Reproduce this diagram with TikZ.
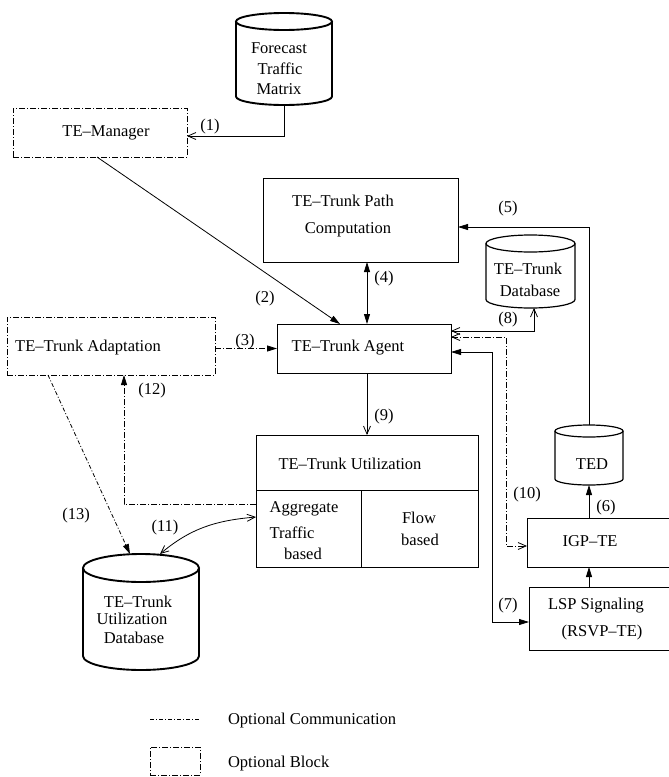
\documentclass[tikz,border=0pt]{standalone}
\usepackage{fontspec}
\setmainfont{Liberation Serif}
\usetikzlibrary{arrows.meta,calc}
\newcommand\cylpath[6]{%
  \draw[#6] (#1,{-(#3+#5)}) -- (#1,{-(#4-#5)}) arc[start angle=180,end angle=360,x radius={(#2-#1)/2},y radius=#5] -- (#2,{-(#3+#5)});
  \draw[#6] ({(#1+#2)/2},{-(#3+#5)}) ellipse[x radius={(#2-#1)/2},y radius=#5];}
\begin{document}
\begin{tikzpicture}[x=1pt,y=1pt,
  txt/.style={inner sep=0pt,outer sep=0pt,font=\fontsize{16.5}{19}\selectfont,text height=11pt,text depth=3pt},
  blk/.style={draw,line width=0.8pt,inner sep=0pt,outer sep=0pt},
  optdash/.style={dash pattern=on 6pt off 2pt on 1pt off 2pt},
  optfine/.style={dash pattern=on 4pt off 2pt on 1pt off 2pt},
  optblk/.style={blk,optdash},
  hole/.style={inner sep=0pt,outer sep=0pt},
  conn/.style={line width=0.8pt},
  fhead/.style={-{Triangle[length=10pt,width=6pt]}},
  fboth/.style={{Triangle[length=10pt,width=6pt]}-{Triangle[length=10pt,width=6pt]}},
  ohead/.style={-{Straight Barb[length=8pt,width=7pt]}},
  oboth/.style={{Straight Barb[length=8pt,width=7pt]}-{Straight Barb[length=8pt,width=7pt]}},
  thick cyl/.style={line width=1.9pt},
  thin cyl/.style={line width=1.2pt}]
\useasboundingbox (0,0) rectangle (669,-777);
\clip (0,0) rectangle (669,-777);

% cylinders
\node[hole,minimum width=96pt,minimum height=92pt] (fc) at (284,-59) {};
\cylpath{236}{332}{13}{105}{8.5}{thick cyl}
\node[txt] (fct1) at (279,-49) {Forecast};
\node[txt] (fct2) at (280,-70) {Traffic};
\node[txt] (fct3) at (279,-90) {Matrix};

\node[hole,minimum width=89pt,minimum height=73pt] (tdb) at (530.5,-271.5) {};
\cylpath{486}{575}{235}{308}{8.5}{thin cyl}
\node[txt] (tdbt1) at (528,-270) {TE--Trunk};
\node[txt] (tdbt2) at (530,-292) {Database};

\node[hole,minimum width=68pt,minimum height=60pt] (ted) at (589,-455) {};
\cylpath{555}{623}{425}{485}{6}{thin cyl}
\node[txt] (tedt) at (592,-465) {TED};

\node[hole,minimum width=116pt,minimum height=116pt] (udb) at (141,-612) {};
\cylpath{83}{199}{554}{670}{14}{thick cyl}
\node[txt] (udbt1) at (138,-603) {TE--Trunk};
\node[txt] (udbt2) at (132,-620) {Utilization};
\node[txt] (udbt3) at (134,-639) {Database};

% boxes
\node[optblk,minimum width=174pt,minimum height=49pt] (mgr) at (100,-132.5) {};
\node[txt] (mgrt) at (106,-132) {TE--Manager};

\node[blk,minimum width=195pt,minimum height=84pt] (path) at (360.5,-220) {};
\node[txt] (patht1) at (343,-202) {TE--Trunk Path};
\node[txt] (patht2) at (348,-229) {Computation};

\node[blk,minimum width=174pt,minimum height=49pt] (agent) at (364,-348.5) {};
\node[txt] (agentt) at (348,-347) {TE--Trunk Agent};

\node[optblk,minimum width=208pt,minimum height=58pt] (adapt) at (111,-346) {};
\node[txt] (adaptt) at (88,-347) {TE--Trunk Adaptation};

\node[blk,minimum width=222pt,minimum height=132pt] (util) at (367,-501) {};
\draw[line width=0.8pt] (util.west |- 0,-490) -- (util.east |- 0,-490);
\draw[line width=0.8pt] (361,-490) -- (util.south -| 361,0);
\node[txt] (utilt) at (350,-465) {TE--Trunk Utilization};
\node[txt] (aggt1) at (304,-508) {Aggregate};
\node[txt] (aggt2) at (292,-534) {Traffic};
\node[txt] (aggt3) at (303,-555) {based};
\node[txt] (flowt1) at (419,-519) {Flow};
\node[txt] (flowt2) at (420,-541) {based};

\node[blk,minimum width=145pt,minimum height=49pt] (igp) at (599.5,-542.5) {};
\node[txt] (igpt) at (590,-542) {IGP--TE};

\node[blk,minimum width=143pt,minimum height=63pt] (lsp) at (600.5,-618.5) {};
\node[txt] (lspt1) at (596,-605) {LSP Signaling};
\node[txt] (lspt2) at (602,-632) {(RSVP--TE)};

% connectors
\draw[conn,ohead] (fc.south) |- (mgr.east |- 0,-136);
\draw[conn,fhead] (mgr.south -| 97,0) -- (agent.north -| 340,0);
\draw[conn,optdash,fhead] (adapt.east |- agent.west) -- (agent.west);
\draw[conn,fboth] (path.south -| 367,0) -- (agent.north -| 367,0);
\draw[conn,fhead] (ted.north) |- (path.east |- 0,-227);
\draw[conn,fhead] (igp.north -| 589,0) -- (ted.south);
\draw[conn,fhead] (lsp.north -| 589,0) -- (igp.south -| 589,0);
\draw[conn,fboth] (agent.east |- 0,-352) -| (492,-622) -- (lsp.west |- 0,-622);
\draw[conn,oboth] (tdb.south -| 534,0) |- (agent.east |- 0,-331);
\draw[conn,optdash,oboth] (agent.east |- 0,-337) -| (506,-546) -- (igp.west |- 0,-546);
\draw[conn,ohead] (agent.south -| 367,0) -- (util.north -| 367,0);
\draw[conn,oboth] (udb.north -| 160,0) to[out=40,in=185] (util.west |- 0,-517);
\draw[conn,optdash,fhead] (util.west |- 0,-504) -| (adapt.south -| 124,0);
\draw[conn,optfine,fhead] (adapt.south -| 48,0) -- (udb.north -| 130,0);

% labels
\node[txt] (l1) at (210,-126) {(1)};
\node[txt] (l2) at (265,-298) {(2)};
\node[txt] (l3) at (245,-341) {(3)};
\node[txt] (l4) at (384,-278) {(4)};
\node[txt] (l5) at (508,-208) {(5)};
\node[txt] (l6) at (606,-507) {(6)};
\node[txt] (l7) at (508,-605) {(7)};
\node[txt] (l8) at (508,-319) {(8)};
\node[txt] (l9) at (384,-416) {(9)};
\node[txt] (l10) at (527,-494) {(10)};
\node[txt] (l11) at (165,-527) {(11)};
\node[txt] (l12) at (152,-390) {(12)};
\node[txt] (l13) at (76,-515) {(13)};

% legend
\coordinate (lega) at (150,-719);
\coordinate (legb) at (200,-719);
\draw[line width=0.8pt,optfine] (lega) -- (legb);
\node[txt,anchor=west] (legt1) at (228,-720) {Optional Communication};
\node[optblk,minimum width=50pt,minimum height=28pt] (legbox) at (175,-761) {};
\node[txt,anchor=west] (legt2) at (228,-763) {Optional Block};
\end{tikzpicture}
\end{document}
